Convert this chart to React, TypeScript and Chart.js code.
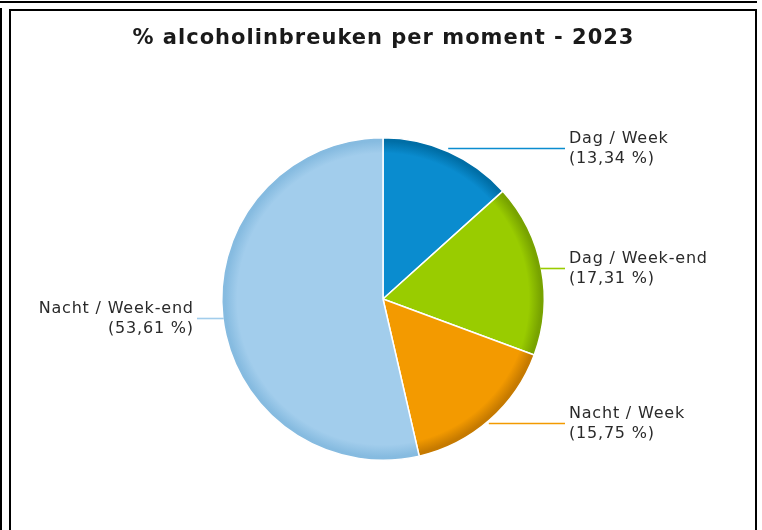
import React, { useEffect, useRef } from "react";
import { Chart, registerables } from "chart.js";

Chart.register(...registerables);

const TITLE = "% alcoholinbreuken per moment - 2023";
const categories = ["Dag / Week", "Dag / Week-end", "Nacht / Week", "Nacht / Week-end"];
const values = [13.34, 17.31, 15.75, 53.61];
const baseColors = ["#0a8ccf", "#99cc00", "#f39a00", "#a2cdec"];
const rimColors = ["#006ea6", "#78a300", "#c67a00", "#86bbe0"];

const fmt = (v: number) => "(" + v.toFixed(2).replace(".", ",") + " %)";

const overlayPlugin = {
  id: "overlay",
  beforeDraw(chart: any) {
    const ctx = chart.ctx;
    ctx.save();
    ctx.fillStyle = "#ffffff";
    ctx.fillRect(0, 0, chart.width, chart.height);
    ctx.fillStyle = "#000000";
    ctx.fillRect(0, 1, 757, 2);
    ctx.fillRect(0, 8, 2, chart.height - 8);
    ctx.fillRect(9, 9, 748, 2);
    ctx.fillRect(9, 9, 2, chart.height - 9);
    ctx.fillRect(755, 9, 2, chart.height - 9);
    // title
    const ts = 1;
    ctx.font = "bold 21px 'DejaVu Sans'";
    (ctx as any).letterSpacing = ts + "px";
    ctx.fillStyle = "#1a1a1a";
    ctx.textBaseline = "alphabetic";
    ctx.textAlign = "left";
    const tw = ctx.measureText(TITLE).width - ts;
    ctx.fillText(TITLE, 383 - tw / 2, 44);
    ctx.restore();
  },
  afterDraw(chart: any) {
    const ctx = chart.ctx;
    const meta = chart.getDatasetMeta(0);
    ctx.save();
    const sp = 0.8;
    ctx.font = "16px 'DejaVu Sans'";
    (ctx as any).letterSpacing = sp + "px";
    ctx.textBaseline = "alphabetic";
    ctx.textAlign = "left";
    meta.data.forEach((arc: any, i: number) => {
      const mid = (arc.startAngle + arc.endAngle) / 2;
      const r = arc.outerRadius;
      const px = arc.x + Math.cos(mid) * (r - 1);
      const py = Math.round(arc.y + Math.sin(mid) * (r + 4)) + 0.5;
      const right = Math.cos(mid) >= 0;
      ctx.strokeStyle = baseColors[i];
      ctx.lineWidth = 1.6;
      ctx.beginPath();
      ctx.moveTo(px, py);
      ctx.lineTo(right ? arc.x + 182 : arc.x - 186, py);
      ctx.stroke();
      ctx.fillStyle = "#2a2a2a";
      const l1 = categories[i];
      const l2 = fmt(values[i]);
      if (right) {
        const tx = arc.x + 186;
        ctx.fillText(l1, tx, py - 6);
        ctx.fillText(l2, tx, py + 14);
      } else {
        const tr = arc.x - 190;
        const w1 = ctx.measureText(l1).width - sp;
        const w2 = ctx.measureText(l2).width - sp;
        ctx.fillText(l1, tr - w1, py - 6);
        ctx.fillText(l2, tr - w2, py + 14);
      }
    });
    ctx.restore();
  },
};

export default function App() {
  const ref = useRef<HTMLCanvasElement | null>(null);
  useEffect(() => {
    document.body.style.margin = "0";
    const canvas = ref.current!;
    const chart = new Chart(canvas, {
      type: "pie",
      data: {
        labels: categories,
        datasets: [
          {
            data: values,
            backgroundColor: (c: any) => {
              const area = c.chart.chartArea;
              const i = c.dataIndex;
              if (!area || i === undefined) return baseColors[i ?? 0];
              const cx = (area.left + area.right) / 2;
              const cy = (area.top + area.bottom) / 2;
              const r = Math.min(area.right - area.left, area.bottom - area.top) / 2;
              const g = c.chart.ctx.createRadialGradient(cx, cy, 0, cx, cy, r);
              g.addColorStop(0, baseColors[i]);
              g.addColorStop(0.9, baseColors[i]);
              g.addColorStop(0.975, rimColors[i]);
              g.addColorStop(1, rimColors[i]);
              return g;
            },
            borderColor: "#ffffff",
            borderWidth: 1.5,
          },
        ],
      },
      options: {
        responsive: false,
        animation: false,
        events: [],
        layout: { padding: { left: 221, right: 217, top: 137, bottom: 69 } },
        plugins: {
          legend: { display: false },
          tooltip: { enabled: false },
          title: { display: false },
        },
      },
      plugins: [overlayPlugin],
    });
    return () => chart.destroy();
  }, []);
  return <canvas ref={ref} width={762} height={530} style={{ display: "block", width: 762, height: 530 }} />;
}
